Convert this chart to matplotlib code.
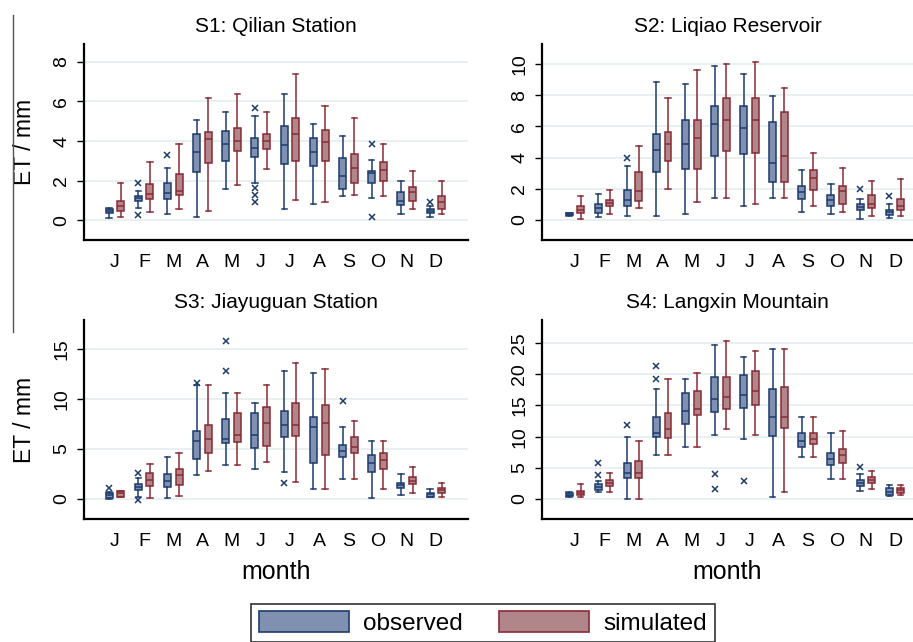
import matplotlib
matplotlib.use("Agg")
import matplotlib.pyplot as plt
from matplotlib.lines import Line2D
from matplotlib.patches import Patch

months = ["J", "F", "M", "A", "M", "J", "J", "A", "S", "O", "N", "D"]
titles = ["S1: Qilian Station", "S2: Liqiao Reservoir",
          "S3: Jiayuguan Station", "S4: Langxin Mountain"]

# each row: (whislo, q1, med, q3, whishi)
s1_obs = [(0.1, 0.35, 0.45, 0.55, 0.6), (0.6, 0.98, 1.1, 1.2, 1.5), (0.3, 1.06, 1.35, 1.9, 2.63),
          (0.17, 2.41, 3.45, 4.34, 5.08), (1.59, 3.0, 3.85, 4.52, 5.47), (1.89, 3.2, 3.65, 4.15, 5.25),
          (0.57, 2.84, 3.78, 4.78, 6.38), (0.8, 2.72, 3.46, 4.15, 4.86), (1.2, 1.57, 2.21, 3.12, 4.24),
          (1.1, 1.9, 2.38, 2.51, 3.04), (0.3, 0.78, 0.95, 1.42, 2.0), (0.18, 0.35, 0.45, 0.55, 0.72)]
s1_obs_out = [[], [1.87, 0.27], [3.3], [], [], [5.65, 1.62, 1.25, 0.9], [], [], [], [3.83, 0.17], [], [0.9]]
s1_sim = [(0.15, 0.49, 0.7, 0.98, 1.9), (0.39, 1.06, 1.3, 1.82, 2.94), (0.57, 1.27, 1.5, 2.35, 3.85),
          (0.49, 2.9, 4.1, 4.44, 6.18), (1.79, 3.51, 3.98, 4.66, 6.38), (2.6, 3.61, 4.0, 4.34, 5.47),
          (1.0, 3.0, 4.35, 5.18, 7.39), (0.9, 3.0, 3.95, 4.56, 5.77), (1.28, 1.9, 2.65, 3.32, 5.18),
          (1.2, 2.0, 2.55, 2.94, 3.83), (0.57, 0.98, 1.42, 1.7, 2.51), (0.3, 0.57, 0.9, 1.2, 2.0)]

s2_obs = [(0.25, 0.3, 0.35, 0.42, 0.45), (0.19, 0.45, 0.75, 1.03, 1.67), (0.23, 0.88, 1.3, 1.9, 3.48),
          (0.23, 3.06, 4.5, 5.49, 8.82), (0.38, 3.29, 4.87, 6.43, 8.7), (1.39, 4.08, 6.17, 7.29, 9.87),
          (0.88, 4.21, 5.92, 7.29, 9.36), (1.39, 2.41, 3.63, 6.26, 7.95), (0.51, 1.37, 1.77, 2.16, 3.18),
          (0.38, 0.88, 1.3, 1.62, 2.31), (0.09, 0.62, 0.83, 1.0, 1.37), (0.13, 0.34, 0.5, 0.66, 1.03)]
s2_obs_out = [[], [], [3.95], [], [], [], [], [], [], [], [2.0], [1.52]]
s2_sim = [(0.09, 0.45, 0.66, 0.88, 1.52), (0.38, 0.88, 1.09, 1.3, 1.9), (0.75, 1.24, 1.84, 3.06, 4.76),
          (2.0, 3.8, 4.87, 5.64, 7.82), (1.13, 3.29, 5.23, 6.43, 9.6), (1.39, 4.44, 6.39, 7.82, 10.0),
          (1.0, 4.29, 6.39, 7.82, 10.13), (1.39, 2.41, 4.1, 6.92, 8.44), (0.88, 1.9, 2.69, 3.18, 4.32),
          (0.51, 1.05, 1.84, 2.16, 3.33), (0.23, 0.75, 1.05, 1.62, 2.52), (0.23, 0.62, 0.88, 1.37, 2.65)]

s3_obs = [(0.0, 0.13, 0.4, 0.57, 0.73), (0.23, 0.9, 1.17, 1.47, 2.07), (0.13, 1.23, 1.8, 2.47, 4.23),
          (2.4, 3.97, 5.8, 6.83, 11.4), (3.4, 5.57, 6.0, 8.03, 10.57), (2.97, 5.13, 6.4, 8.63, 9.63),
          (2.73, 6.23, 7.4, 8.83, 12.8), (0.97, 3.57, 7.23, 8.23, 12.63), (1.97, 4.17, 4.8, 5.4, 7.23),
          (0.13, 2.73, 3.6, 4.4, 5.83), (0.4, 1.13, 1.4, 1.63, 2.47), (0.17, 0.23, 0.5, 0.63, 1.0)]
s3_obs_out = [[1.07], [2.57, -0.1], [], [11.57], [15.8, 12.8], [], [1.57], [], [9.83], [], [], []]
s3_sim = [(0.2, 0.23, 0.6, 0.83, 0.85), (0.13, 1.33, 1.9, 2.63, 3.47), (0.33, 1.4, 2.4, 3.0, 4.63),
          (2.8, 4.57, 6.0, 7.4, 11.4), (3.4, 5.73, 6.4, 8.63, 10.57), (3.73, 5.33, 7.63, 9.17, 11.4),
          (1.73, 6.33, 7.4, 9.63, 13.63), (0.97, 4.4, 7.63, 9.4, 13.0), (1.97, 4.57, 5.23, 6.23, 7.8),
          (0.97, 2.97, 3.9, 4.63, 5.83), (0.57, 1.47, 1.8, 2.23, 3.23), (0.17, 0.63, 0.9, 1.07, 1.63)]

s4_obs = [(0.35, 0.5, 0.7, 0.95, 1.1), (1.17, 1.44, 1.97, 2.35, 2.88), (0.0, 3.41, 4.1, 5.81, 9.97),
          (7.04, 9.97, 10.6, 13.17, 17.59), (8.37, 12.1, 14.07, 17.0, 19.2), (10.23, 13.97, 15.99, 19.56, 24.73),
          (9.6, 14.66, 16.63, 19.83, 22.76), (0.27, 10.13, 13.17, 17.59, 23.99), (6.66, 8.37, 9.28, 10.6, 13.17),
          (3.15, 5.44, 6.4, 7.41, 10.6), (1.28, 2.13, 2.6, 3.04, 3.94), (0.53, 0.64, 1.2, 1.81, 2.24)]
s4_obs_out = [[], [5.8, 3.9], [11.83], [21.4, 19.2], [], [3.94, 1.6], [2.88], [], [], [], [5.17], []]
s4_sim = [(0.37, 0.59, 1.0, 1.33, 2.35), (1.17, 2.08, 2.61, 3.04, 4.2), (0.0, 3.41, 4.1, 6.13, 9.33),
          (7.04, 9.81, 11.3, 13.8, 19.2), (8.37, 13.43, 14.5, 17.32, 20.2), (11.19, 14.39, 16.3, 19.56, 25.3),
          (10.23, 15.03, 17.32, 20.52, 23.72), (1.17, 11.46, 13.17, 17.96, 23.99), (6.66, 8.9, 9.7, 10.6, 13.17),
          (3.15, 5.7, 7.04, 8.1, 10.93), (1.55, 2.5, 3.04, 3.57, 4.53), (0.64, 1.01, 1.44, 1.71, 2.24)]

yticks = [[0, 2, 4, 6, 8], [0, 2, 4, 6, 8, 10], [0, 5, 10, 15], [0, 5, 10, 15, 20, 25]]
ylims = [(-1.0, 8.9), (-1.28, 11.28), (-2.0, 17.9), (-3.2, 28.7)]

obs_fill, obs_edge = "#8090b0", "#1d3c6e"
sim_fill, sim_edge = "#b0868a", "#8a2b35"
grid_c = "#e4eef0"

plt.rcParams["font.family"] = ["Liberation Sans", "DejaVu Sans"]

fig = plt.figure(figsize=(9.13, 6.42), dpi=100)
W, H = 913, 642
boxes = [(84, 468, 44, 240), (542, 913, 44, 240), (84, 468, 320, 519), (542, 913, 320, 519)]
xlims = [(-0.06, 13.1), (-0.13, 12.62), (-0.06, 13.1), (-0.13, 12.62)]

data = [(s1_obs, s1_obs_out, s1_sim), (s2_obs, s2_obs_out, s2_sim),
        (s3_obs, s3_obs_out, s3_sim), (s4_obs, s4_obs_out, s4_sim)]

def make_stats(rows, outs):
    st = []
    for r, o in zip(rows, outs):
        st.append(dict(whislo=r[0], q1=r[1], med=r[2], q3=r[3], whishi=r[4], fliers=o))
    return st

for i in range(4):
    l, r, t, b = boxes[i]
    ax = fig.add_axes([l / W, 1 - b / H, (r - l) / W, (b - t) / H])
    obs, obs_out, sim = data[i]
    pos = list(range(1, 13))
    off = 0.2
    for st_rows, outs, fc, ec, dx in [(obs, obs_out, obs_fill, obs_edge, -off),
                                      (sim, [[] for _ in sim], sim_fill, sim_edge, off)]:
        ax.bxp(make_stats(st_rows, outs), positions=[p + dx for p in pos], widths=0.24,
               capwidths=0.18, patch_artist=True, showfliers=True,
               boxprops=dict(facecolor=fc, edgecolor=ec, linewidth=1.1),
               medianprops=dict(color=ec, linewidth=1.1),
               whiskerprops=dict(color=ec, linewidth=1.1),
               capprops=dict(color=ec, linewidth=1.1),
               flierprops=dict(marker="x", markeredgecolor=obs_edge, markersize=4,
                               markeredgewidth=1.1, linestyle="none"),
               zorder=3)
    ax.set_xlim(*xlims[i])
    ax.set_ylim(*ylims[i])
    ax.set_xticks(pos)
    ax.set_xticklabels(months, fontsize=14)
    ax.tick_params(axis="x", length=0, pad=10)
    ax.set_yticks(yticks[i])
    ax.set_yticklabels([str(v) for v in yticks[i]], rotation=90, va="center", fontsize=14)
    ax.tick_params(axis="y", length=5, width=1.0, pad=5)
    ax.grid(axis="y", color=grid_c, linewidth=1.2, zorder=0)
    ax.set_axisbelow(True)
    for s in ["top", "right"]:
        ax.spines[s].set_visible(False)
    for s in ["left", "bottom"]:
        ax.spines[s].set_linewidth(1.6)
    ax.set_title(titles[i], fontsize=15, pad=9)
    if i in (0, 2):
        ax.set_ylabel("ET / mm", fontsize=16.5, labelpad=12)
    if i in (2, 3):
        ax.set_xlabel("month", fontsize=18, labelpad=7)

# stray frame line at left edge of the reference picture
fig.add_artist(Line2D([13 / W, 13 / W], [1 - 15 / H, 1 - 332 / H], color="#555555", linewidth=1.0))

handles = [Patch(facecolor=obs_fill, edgecolor=obs_edge, linewidth=1.2, label="observed"),
           Patch(facecolor=sim_fill, edgecolor=sim_edge, linewidth=1.2, label="simulated")]
leg = fig.legend(handles=handles, loc="upper center", bbox_to_anchor=(483 / W, 1 - 604 / H), ncol=2,
                 fontsize=17.5, frameon=True, fancybox=False, edgecolor="black",
                 handlelength=3.7, handleheight=0.95, columnspacing=1.5, handletextpad=0.6,
                 borderpad=0.3, borderaxespad=0.0)
leg.get_frame().set_linewidth(1.2)

fig.savefig("out.png", dpi=100)
